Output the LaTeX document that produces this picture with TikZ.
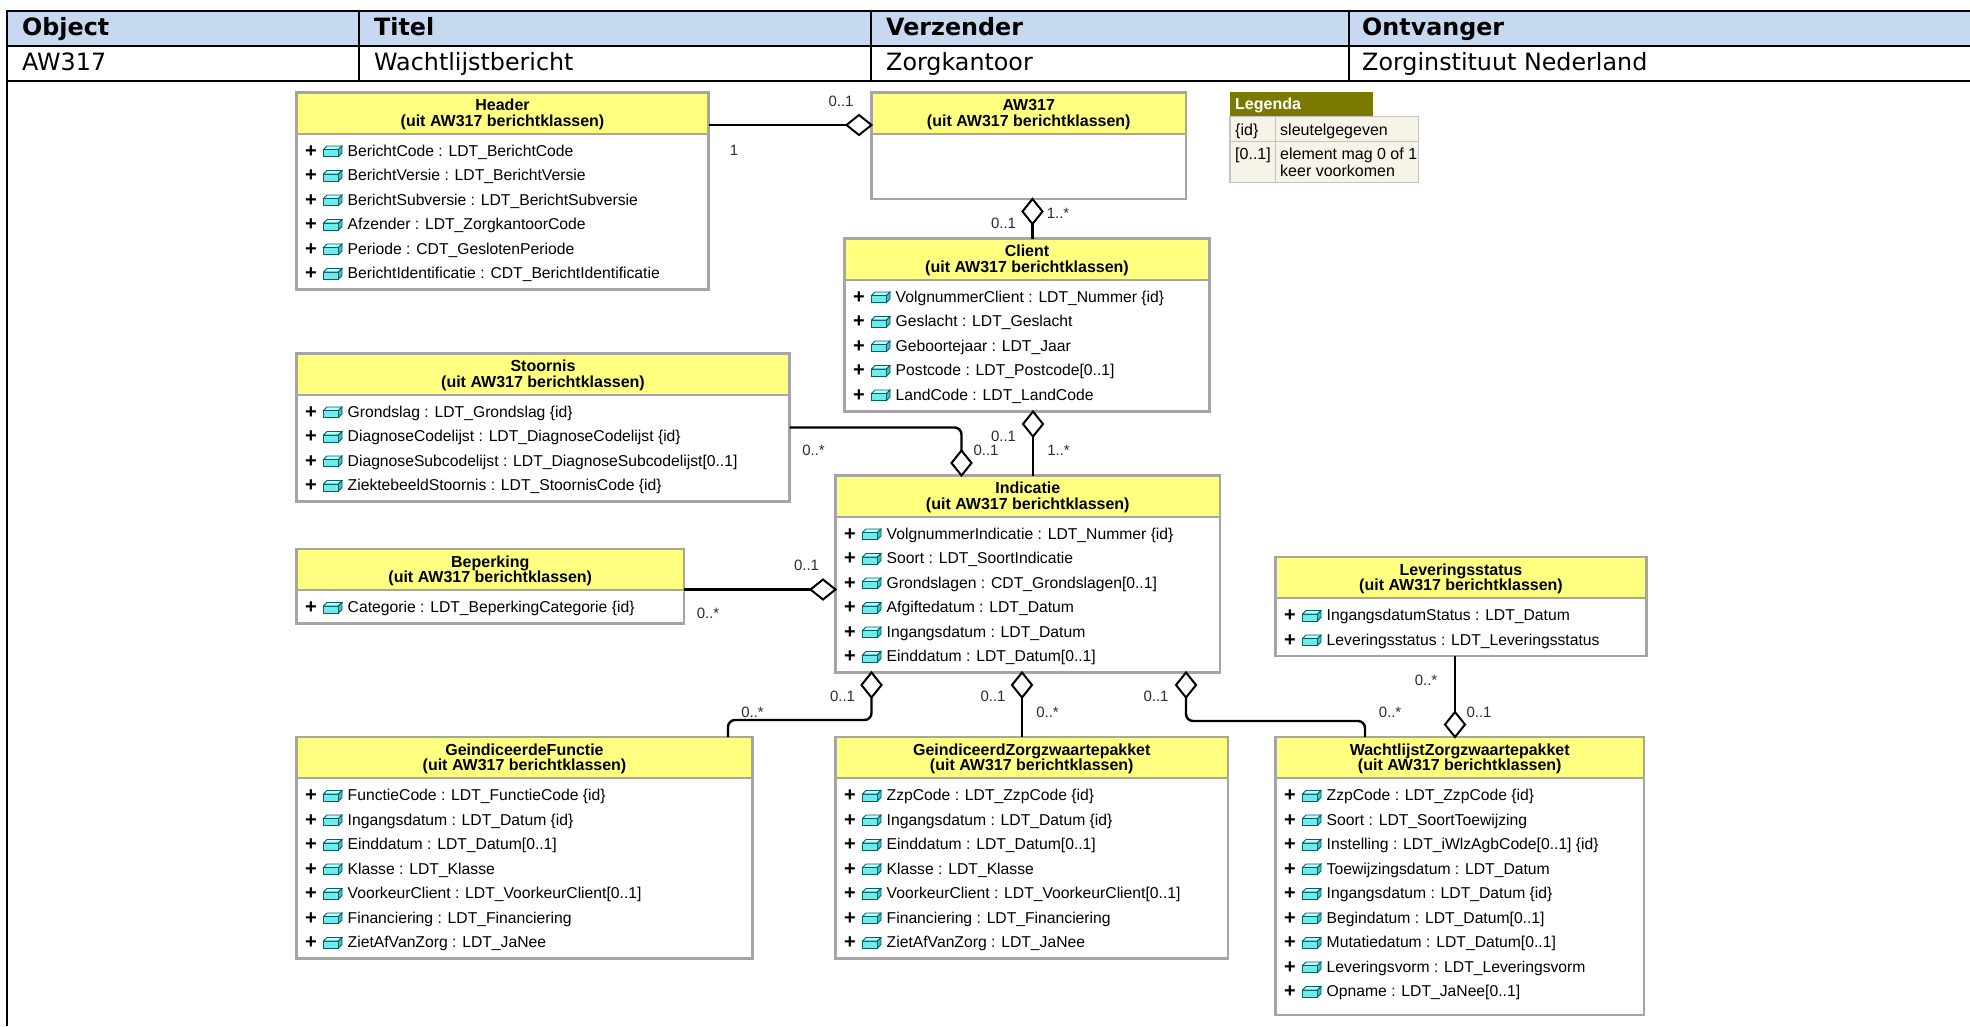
\documentclass[tikz,border=0pt]{standalone}
\usepackage{fontspec}
\setmainfont{Liberation Sans}
\newfontfamily\tblfont{DejaVu Sans}
\usetikzlibrary{calc,shapes.geometric}
\definecolor{hdrblue}{RGB}{198,217,241}
\definecolor{clsyellow}{RGB}{255,255,128}
\definecolor{clsborder}{RGB}{165,165,165}
\definecolor{iconfront}{RGB}{110,235,235}
\definecolor{icontop}{RGB}{190,255,255}
\definecolor{iconside}{RGB}{70,190,195}
\definecolor{iconline}{RGB}{0,95,105}
\definecolor{legolive}{RGB}{122,122,0}
\definecolor{legcell}{RGB}{246,243,232}
\definecolor{legline}{RGB}{195,195,195}
\definecolor{multcol}{RGB}{45,45,45}
\tikzset{
  tblline/.style={line width=2.2pt, black},
  tblhead/.style={font=\tblfont\bfseries\fontsize{23.8}{28}\selectfont, anchor=base west, inner sep=0pt},
  tblcell/.style={font=\tblfont\fontsize{23.8}{28}\selectfont, anchor=base west, inner sep=0pt},
  classbody/.style={fill=white, draw=none, inner sep=0pt, outer sep=0pt},
  classframe/.style={draw=clsborder, line width=2.4pt},
  classsep/.style={draw=clsborder, line width=2pt},
  classtitle/.style={font=\bfseries\fontsize{16}{15.5}\selectfont, align=center, inner sep=0pt},
  attrtext/.style={font=\fontsize{15.7}{19}\selectfont, anchor=base west, inner sep=0pt},
  plussign/.style={font=\bfseries\fontsize{20}{20}\selectfont, inner sep=0pt},
  conn/.style={line width=2.4pt, black},
  dmdv/.style={diamond, draw=black, fill=white, line width=2pt, minimum width=20pt, minimum height=25pt, inner sep=0pt, outer sep=0pt},
  dmdh/.style={diamond, draw=black, fill=white, line width=2pt, minimum width=25pt, minimum height=20pt, inner sep=0pt, outer sep=0pt},
  multlabel/.style={font=\fontsize{15}{18}\selectfont, text=multcol, inner sep=0pt},
  legtext/.style={font=\fontsize{16}{17}\selectfont, anchor=base west, inner sep=0pt},
}
\newcommand{\umlclass}[6]{%
  \node[classbody, anchor=north west, minimum width={#4-#2}, minimum height={#5-#3}] (#1) at (#2,#3) {};
  \fill[clsyellow] (#1.north west) rectangle ($(#1.north east)+(0,41)$);
  \draw[classsep] ($(#1.north west)+(0,41)$) -- ($(#1.north east)+(0,41)$);
  \draw[classframe] (#1.north west) rectangle (#1.south east);
  \node[classtitle] (#1-title) at ($(#1.north)+(0,22)$) {#6\\(uit AW317 berichtklassen)};
}
\newcommand{\umlattrs}[2]{%
  \foreach \txt [count=\i from 0] in {#2} {%
    \coordinate (#1-r\i) at ($(#1.north west)+(0,{58+24.5*\i})$);
    \node[plussign] (#1-p\i) at ($(#1-r\i)+(14.5,1)$) {+};
    \begin{scope}[shift={(#1-r\i)}]
      \filldraw[fill=iconfront, draw=iconline, line width=0.8pt] (27,-1) rectangle (42,6);
      \filldraw[fill=icontop, draw=iconline, line width=0.8pt] (27,-1) -- (30.5,-4.5) -- (45.5,-4.5) -- (42,-1) -- cycle;
      \filldraw[fill=iconside, draw=iconline, line width=0.8pt] (42,-1) -- (45.5,-4.5) -- (45.5,2.5) -- (42,6) -- cycle;
    \end{scope}
    \node[attrtext] (#1-a\i) at ($(#1-r\i)+(51,5.5)$) {\txt};
  }%
}
\begin{document}
\begin{tikzpicture}[x=1pt, y=-1pt]
\useasboundingbox (0,0) rectangle (1970,1026);
\fill[white] (0,0) rectangle (1970,1026);
% ---------- table ----------
\fill[hdrblue] (7,11) rectangle (1970,46);
\draw[tblline] (6,11) -- (1970,11);
\draw[tblline] (6,46) -- (1970,46);
\draw[tblline] (6,81) -- (1970,81);
\draw[tblline] (7,10) -- (7,1026);
\draw[tblline] (359,11) -- (359,81);
\draw[tblline] (871,11) -- (871,81);
\draw[tblline] (1349,11) -- (1349,81);
\node[tblhead] (thObject) at (22,35.5) {Object};
\node[tblhead] (thTitel) at (374,35.5) {Titel};
\node[tblhead] (thVerz) at (886,35.5) {Verzender};
\node[tblhead] (thOntv) at (1362,35.5) {Ontvanger};
\node[tblcell] (tdObject) at (22,70.5) {AW317};
\node[tblcell] (tdTitel) at (374,70.5) {Wachtlijstbericht};
\node[tblcell] (tdVerz) at (886,70.5) {Zorgkantoor};
\node[tblcell] (tdOntv) at (1362,70.5) {Zorginstituut Nederland};
% ---------- legend ----------
\fill[legolive] (1230,92) rectangle (1372.5,116.5);
\filldraw[fill=legcell, draw=legline, line width=1.5pt] (1230,116.5) rectangle (1418.5,182.5);
\draw[legline, line width=1.5pt] (1230,141.5) -- (1418.5,141.5);
\draw[legline, line width=1.5pt] (1275.5,116.5) -- (1275.5,182.5);
\node[legtext, font=\bfseries\fontsize{16}{17}\selectfont, text=white] (legTitle) at (1235,109.5) {Legenda};
\node[legtext] (legK1) at (1235,135.5) {\{id\}};
\node[legtext] (legV1) at (1280,135.5) {sleutelgegeven};
\node[legtext] (legK2) at (1235,159.5) {[0..1]};
\node[legtext] (legV2) at (1280,159.5) {element mag 0 of 1};
\node[legtext] (legV3) at (1280,176.5) {keer voorkomen};
% ---------- classes ----------
\umlclass{header}{296.5}{92.5}{708.5}{289.5}{Header}
\umlattrs{header}{BerichtCode : LDT\_BerichtCode, BerichtVersie : LDT\_BerichtVersie, BerichtSubversie : LDT\_BerichtSubversie, Afzender : LDT\_ZorgkantoorCode, Periode : CDT\_GeslotenPeriode, BerichtIdentificatie : CDT\_BerichtIdentificatie}
\umlclass{aw}{871.5}{92.5}{1186}{199}{AW317}
\umlclass{client}{844.5}{238.5}{1209.5}{411.5}{Client}
\umlattrs{client}{VolgnummerClient : LDT\_Nummer \{id\}, Geslacht : LDT\_Geslacht, Geboortejaar : LDT\_Jaar, Postcode : LDT\_Postcode[0..1], LandCode : LDT\_LandCode}
\umlclass{stoornis}{296.5}{353.5}{789.5}{501.5}{Stoornis}
\umlattrs{stoornis}{Grondslag : LDT\_Grondslag \{id\}, DiagnoseCodelijst : LDT\_DiagnoseCodelijst \{id\}, DiagnoseSubcodelijst : LDT\_DiagnoseSubcodelijst[0..1], ZiektebeeldStoornis : LDT\_StoornisCode \{id\}}
\umlclass{indicatie}{835.5}{475.5}{1220}{672.5}{Indicatie}
\umlattrs{indicatie}{VolgnummerIndicatie : LDT\_Nummer \{id\}, Soort : LDT\_SoortIndicatie, Grondslagen : CDT\_Grondslagen[0..1], Afgiftedatum : LDT\_Datum, Ingangsdatum : LDT\_Datum, Einddatum : LDT\_Datum[0..1]}
\umlclass{beperking}{296.5}{549}{684}{623.5}{Beperking}
\umlattrs{beperking}{Categorie : LDT\_BeperkingCategorie \{id\}}
\umlclass{lev}{1275.5}{557}{1646.5}{656}{Leveringsstatus}
\umlattrs{lev}{IngangsdatumStatus : LDT\_Datum, Leveringsstatus : LDT\_Leveringsstatus}
\umlclass{gf}{296.5}{737}{752.5}{958.5}{GeindiceerdeFunctie}
\umlattrs{gf}{FunctieCode : LDT\_FunctieCode \{id\}, Ingangsdatum : LDT\_Datum \{id\}, Einddatum : LDT\_Datum[0..1], Klasse : LDT\_Klasse, VoorkeurClient : LDT\_VoorkeurClient[0..1], Financiering : LDT\_Financiering, ZietAfVanZorg : LDT\_JaNee}
\umlclass{gz}{835.5}{737}{1228}{958.5}{GeindiceerdZorgzwaartepakket}
\umlattrs{gz}{ZzpCode : LDT\_ZzpCode \{id\}, Ingangsdatum : LDT\_Datum \{id\}, Einddatum : LDT\_Datum[0..1], Klasse : LDT\_Klasse, VoorkeurClient : LDT\_VoorkeurClient[0..1], Financiering : LDT\_Financiering, ZietAfVanZorg : LDT\_JaNee}
\umlclass{wz}{1275.5}{737}{1644}{1015}{WachtlijstZorgzwaartepakket}
\umlattrs{wz}{ZzpCode : LDT\_ZzpCode \{id\}, Soort : LDT\_SoortToewijzing, Instelling : LDT\_iWlzAgbCode[0..1] \{id\}, Toewijzingsdatum : LDT\_Datum, Ingangsdatum : LDT\_Datum \{id\}, Begindatum : LDT\_Datum[0..1], Mutatiedatum : LDT\_Datum[0..1], Leveringsvorm : LDT\_Leveringsvorm, Opname : LDT\_JaNee[0..1]}
% ---------- diamonds ----------
\node[dmdh, anchor=east] (dA) at ($(aw.north west)+(0,32.5)$) {};
\node[dmdv, anchor=north] (dB) at ($(aw.south west)+(161,0)$) {};
\node[dmdv, anchor=north] (dC) at ($(client.south west)+(188.5,0)$) {};
\node[dmdv, anchor=south] (dD) at ($(indicatie.north west)+(126,0)$) {};
\node[dmdh, anchor=east] (dE) at ($(indicatie.north west)+(0,114)$) {};
\node[dmdv, anchor=north] (dF) at ($(indicatie.south west)+(36,0)$) {};
\node[dmdv, anchor=north] (dG) at ($(indicatie.south west)+(186.5,0)$) {};
\node[dmdv, anchor=north] (dH) at ($(indicatie.south west)+(350.5,0)$) {};
\node[dmdv, anchor=south] (dI) at ($(wz.north west)+(179.5,0)$) {};
\coordinate (cD) at ($(stoornis.north east)+(0,74)$);
\coordinate (cF) at ($(gf.north west)+(431.5,0)$);
\coordinate (cH) at ($(wz.north west)+(89.5,0)$);
% ---------- connectors ----------
\draw[conn] (header.east |- dA.west) -- (dA.west);
\draw[conn] (dB.south) -- (dB.south |- client.north);
\draw[conn] (dC.south) -- (dC.south |- indicatie.north);
\draw[conn, rounded corners=7pt] (cD) -| (dD.north);
\draw[conn] (beperking.east |- dE.west) -- (dE.west);
\draw[conn, rounded corners=7pt] (dF.south) |- ([yshift=17pt]cF) -- (cF);
\draw[conn] (dG.south) -- (dG.south |- gz.north);
\draw[conn, rounded corners=7pt] (dH.south) |- ([yshift=16pt]cH) -- (cH);
\draw[conn] (lev.south -| dI.north) -- (dI.north);
% ---------- multiplicities ----------
\node[multlabel] (mA1) at (841,101) {0..1};
\node[multlabel] (mA2) at (734,150) {1};
\node[multlabel] (mB1) at (1003.5,223.5) {0..1};
\node[multlabel] (mB2) at (1058,213.5) {1..*};
\node[multlabel] (mC1) at (1003.5,436) {0..1};
\node[multlabel] (mC2) at (1058.5,450) {1..*};
\node[multlabel] (mD1) at (813.5,450) {0..*};
\node[multlabel] (mD2) at (986,450) {0..1};
\node[multlabel] (mE1) at (806.5,565) {0..1};
\node[multlabel] (mE2) at (708,613) {0..*};
\node[multlabel] (mF1) at (842.5,696) {0..1};
\node[multlabel] (mF2) at (752.5,712) {0..*};
\node[multlabel] (mG1) at (993,696) {0..1};
\node[multlabel] (mG2) at (1047.5,712) {0..*};
\node[multlabel] (mH1) at (1156,696.5) {0..1};
\node[multlabel] (mH2) at (1390,712) {0..*};
\node[multlabel] (mI1) at (1426,680) {0..*};
\node[multlabel] (mI2) at (1479,712) {0..1};
\end{tikzpicture}
\end{document}
